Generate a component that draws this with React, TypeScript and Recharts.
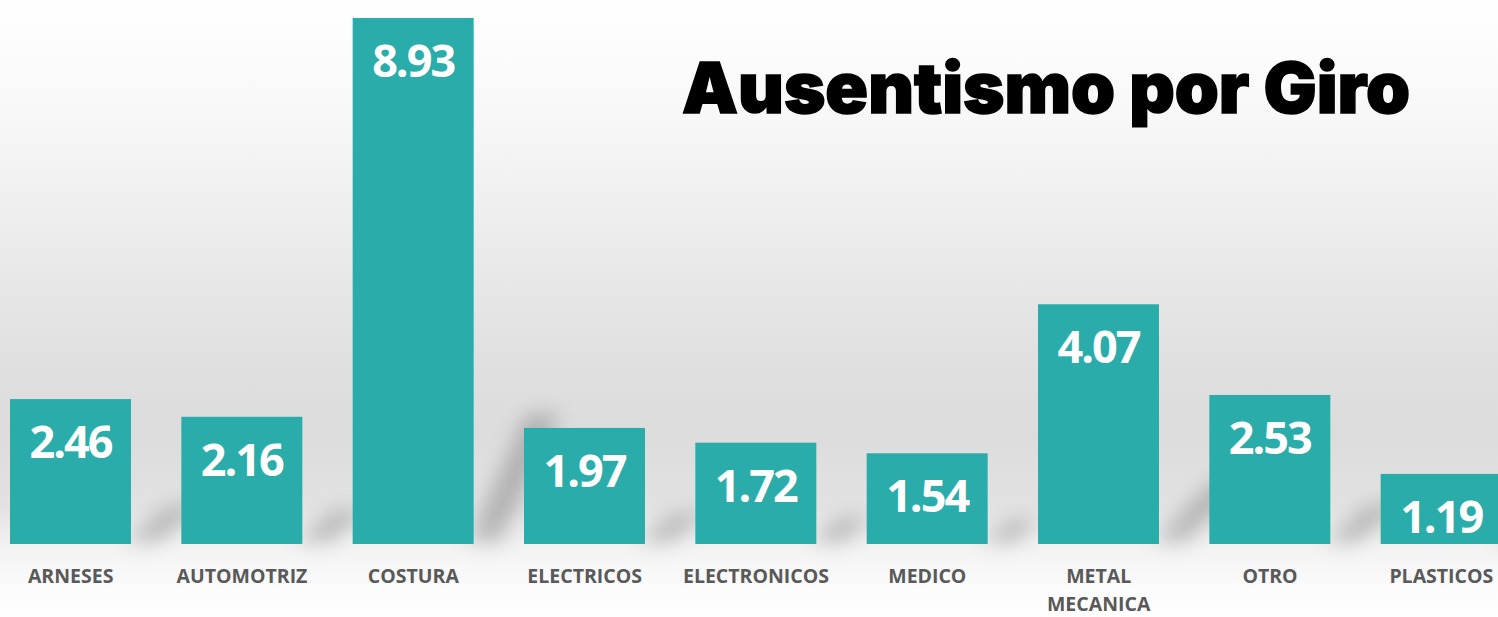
import React from "react";
import { BarChart, Bar, XAxis, YAxis, LabelList } from "recharts";

const categories = [
  "ARNESES",
  "AUTOMOTRIZ",
  "COSTURA",
  "ELECTRICOS",
  "ELECTRONICOS",
  "MEDICO",
  "METAL MECANICA",
  "OTRO",
  "PLASTICOS",
];
const values = [2.46, 2.16, 8.93, 1.97, 1.72, 1.54, 4.07, 2.53, 1.19];
const title = "Ausentismo por Giro";

const data = categories.map((c, i) => ({ name: c, value: values[i] }));

const TEAL = "#2AADAA";

const BarWithShadow = (props: any) => {
  const { x, y, width, height } = props;
  const bottom = y + height;
  const L = Math.min(height * 0.26, 130);
  const dx = Math.min(L * 1.15, 60);
  const right = x + width;
  return (
    <g>
      <polygon
        points={`${right - 6},${bottom - 2} ${right + 26},${bottom - 2} ${right + 26 + dx},${bottom - L} ${right + dx - 6},${bottom - L}`}
        fill="#707070"
        opacity={0.42}
        style={{ filter: "blur(10px)" }}
      />
      <rect x={x} y={y} width={width} height={height} fill={TEAL} />
    </g>
  );
};

const ValueLabel = (props: any) => {
  const { x, y, width, value } = props;
  return (
    <text
      x={x + width / 2}
      y={y + 59}
      textAnchor="middle"
      fill="#ffffff"
      fontFamily="'Open Sans', sans-serif"
      fontWeight={700}
      fontSize={45}
      letterSpacing={-2}
    >
      {Number(value).toFixed(2)}
    </text>
  );
};

const CategoryTick = (props: any) => {
  const { x, y, payload } = props;
  const words: string[] =
    payload.value === "METAL MECANICA" ? ["METAL", "MECANICA"] : [payload.value];
  return (
    <text
      x={x}
      y={y}
      textAnchor="middle"
      fill="#595959"
      fontFamily="'Open Sans', sans-serif"
      fontWeight={700}
      fontSize={19.5}
    >
      {words.map((w, i) => (
        <tspan key={i} x={x} dy={i === 0 ? 31 : 28}>
          {w}
        </tspan>
      ))}
    </text>
  );
};

export default function App() {
  return (
    <div
      style={{
        position: "absolute",
        left: 0,
        top: 0,
        width: 1498,
        height: 617,
        overflow: "hidden",
        background:
          "linear-gradient(to bottom, #ffffff 0%, #f8f8f8 18%, #ebebeb 40%, #e0e0e0 58%, #dcdcdc 70%, #e2e2e2 82%, #f3f3f3 89%, #fbfbfb 95%, #ffffff 100%)",
      }}
    >
      <div style={{ position: "absolute", left: -15, top: 0 }}>
        <BarChart
          width={1542}
          height={617}
          data={data}
          margin={{ top: 0, right: 0, left: 0, bottom: 0 }}
        >
          <XAxis
            dataKey="name"
            axisLine={false}
            tickLine={false}
            height={73}
            interval={0}
            tick={<CategoryTick />}
          />
          <YAxis hide domain={[0, 9.235]} />
          <Bar
            dataKey="value"
            barSize={121}
            isAnimationActive={false}
            shape={<BarWithShadow />}
          >
            <LabelList dataKey="value" content={<ValueLabel />} />
          </Bar>
        </BarChart>
      </div>
      <svg
        width={1498}
        height={617}
        style={{ position: "absolute", left: 0, top: 0, pointerEvents: "none" }}
      >
        <text
          x={682}
          y={113}
          fontFamily="Inter, 'Liberation Sans', sans-serif"
          fontWeight={900}
          fontSize={70}
          fill="#000000"
          stroke="#000000"
          strokeWidth={1.5}
          textLength={728}
          lengthAdjust="spacingAndGlyphs"
        >
          {title}
        </text>
      </svg>
    </div>
  );
}
